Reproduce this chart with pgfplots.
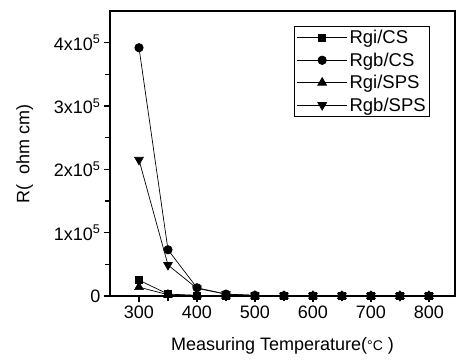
\documentclass[border=0pt]{standalone}
\usepackage{pgfplots}
\pgfplotsset{compat=1.18}
\usepackage{fontspec}
\setmainfont{Liberation Sans}
\begin{document}
\begin{tikzpicture}
\begin{axis}[
  scale only axis, width=345pt, height=285pt,
  xmin=250, xmax=845, ymin=0, ymax=4.5e5,
  axis background/.style={draw=black, line width=1.2pt},
  xtick={300,400,...,800},
  minor xtick={350,450,...,750},
  ytick={0,1e5,2e5,3e5,4e5},
  minor ytick={0.5e5,1.5e5,2.5e5,3.5e5},
  yticklabels={0,1x10\textsuperscript{5},2x10\textsuperscript{5},3x10\textsuperscript{5},4x10\textsuperscript{5}},
  scaled y ticks=false,
  tick align=outside, xtick pos=bottom, ytick pos=left,
  major tick length=6pt, minor tick length=5pt,
  every tick/.style={line width=1.2pt, black},
  axis line style={line width=1.2pt, black},
  /pgf/number format/assume math mode=true,
  ticklabel style={font=\fontsize{18}{20}\selectfont},
  xlabel={Measuring Temperature({\fontsize{14}{15}\selectfont °C} )},
  ylabel={R(\ \ ohm cm)},
  label style={font=\fontsize{18}{20}\selectfont},
  xlabel style={yshift=-12pt},
  ylabel style={yshift=14pt},
  legend style={at={(0.9275,0.947)}, anchor=north east, draw=black, line width=0.6pt,
    font=\fontsize{18.5}{21}\selectfont, row sep=3.5pt, inner sep=2pt},
  legend cell align=left,
  legend image code/.code={\draw[mark repeat=2,mark phase=2,line width=0.8pt] plot coordinates {(0pt,0pt)(25pt,0pt)(50pt,0pt)};},
]
\addplot[black, line width=0.7pt, mark=square*, mark size=3.5pt, mark options={solid,fill=black}] coordinates {
(300,0.25e5)(350,0.03e5)(400,0.01e5)(450,0.005e5)(500,0.003e5)(550,0.002e5)(600,0.002e5)(650,0.001e5)(700,0.001e5)(750,0.001e5)(800,0.001e5)};
\addlegendentry{Rgi/CS}
\addplot[black, line width=0.7pt, mark=*, mark size=4.2pt, mark options={solid,fill=black}] coordinates {
(300,3.92e5)(350,0.73e5)(400,0.13e5)(450,0.03e5)(500,0.01e5)(550,0.006e5)(600,0.004e5)(650,0.003e5)(700,0.002e5)(750,0.002e5)(800,0.001e5)};
\addlegendentry{Rgb/CS}
\addplot[black, line width=0.7pt, mark=triangle*, mark size=5pt, mark options={solid,fill=black}] coordinates {
(300,0.14e5)(350,0.02e5)(400,0.01e5)(450,0.005e5)(500,0.003e5)(550,0.002e5)(600,0.002e5)(650,0.001e5)(700,0.001e5)(750,0.001e5)(800,0.001e5)};
\addlegendentry{Rgi/SPS}
\addplot[black, line width=0.7pt, mark=triangle*, mark size=5pt, mark options={solid,fill=black,rotate=180}] coordinates {
(300,2.15e5)(350,0.49e5)(400,0.12e5)(450,0.03e5)(500,0.01e5)(550,0.006e5)(600,0.004e5)(650,0.003e5)(700,0.002e5)(750,0.002e5)(800,0.001e5)};
\addlegendentry{Rgb/SPS}
\end{axis}
\draw[black, line width=1.6pt] (current axis.north west) -- (current axis.north east) -- (current axis.south east);
\path (current axis.south west) ++(-110pt,-66pt) rectangle ++(458pt,362pt);
\end{tikzpicture}
\end{document}
